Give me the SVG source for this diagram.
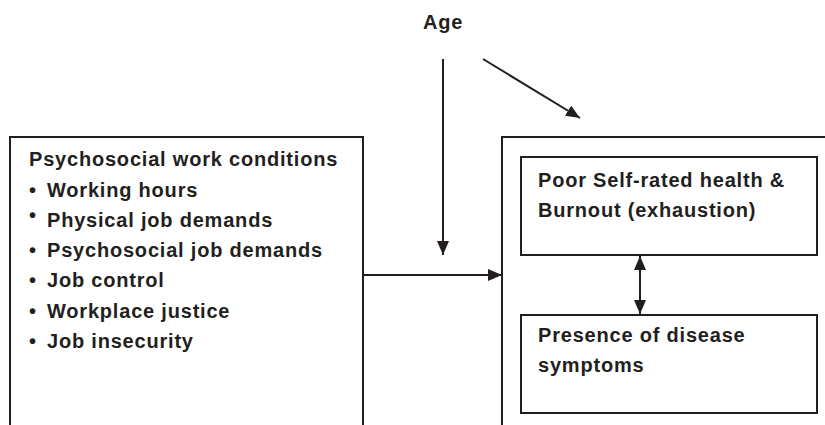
<svg xmlns="http://www.w3.org/2000/svg" width="825" height="425" viewBox="0 0 825 425">
<defs>
<marker id="ah" markerUnits="userSpaceOnUse" markerWidth="14" markerHeight="12" refX="14" refY="6" orient="auto-start-reverse">
<path d="M0,0 L14,6 L0,12 z" fill="#231f20"/>
</marker>
<style>
.t{font-family:"Liberation Sans",Arial,sans-serif;font-weight:bold;font-size:20px;letter-spacing:0.8px;fill:#231f20}
.b{fill:none;stroke:#231f20;stroke-width:2}
.c{fill:none;stroke:#231f20;stroke-width:2}
</style>
</defs>
<rect width="825" height="425" fill="#fff"/>
<g id="age">
<text class="t" x="423" y="29">Age</text>
</g>
<g id="work-conditions">
<path class="b" d="M10,425 V137 H363 V425"/>
<text class="t" x="29" y="166">Psychosocial work conditions</text>
<text class="t" x="29" y="196.5">•</text><text class="t" x="47" y="196.5">Working hours</text>
<text class="t" x="29" y="221.5">•</text><text class="t" x="47" y="226.5">Physical job demands</text>
<text class="t" x="29" y="257">•</text><text class="t" x="47" y="257">Psychosocial job demands</text>
<text class="t" x="29" y="287">•</text><text class="t" x="47" y="287">Job control</text>
<text class="t" x="29" y="318">•</text><text class="t" x="47" y="318">Workplace justice</text>
<text class="t" x="29" y="348">•</text><text class="t" x="47" y="348">Job insecurity</text>
</g>
<g id="outcomes">
<path class="b" d="M502,425 V137 H825"/>
</g>
<g id="health-burnout">
<rect class="b" x="521" y="157" width="296" height="98"/>
<text class="t" x="538" y="187">Poor Self-rated health &amp;</text>
<text class="t" x="538" y="217">Burnout (exhaustion)</text>
</g>
<g id="disease-symptoms">
<rect class="b" x="521" y="315" width="296" height="98"/>
<text class="t" x="538" y="342">Presence of disease</text>
<text class="t" x="538" y="372">symptoms</text>
</g>
<g id="connectors">
<line class="c" x1="443" y1="59" x2="443" y2="255" marker-end="url(#ah)"/>
<line class="c" x1="483" y1="59" x2="580" y2="118" marker-end="url(#ah)"/>
<line class="c" x1="363" y1="275" x2="502" y2="275" marker-end="url(#ah)"/>
<line class="c" x1="640" y1="256" x2="640" y2="314" marker-start="url(#ah)" marker-end="url(#ah)"/>
</g>
</svg>
